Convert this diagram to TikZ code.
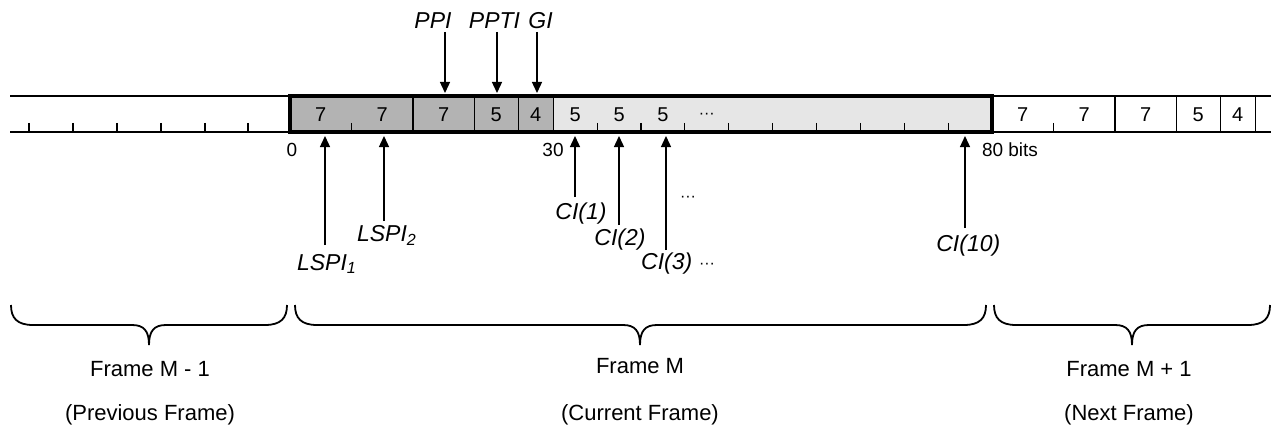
\documentclass[tikz,border=0pt]{standalone}
\usepackage{fontspec}
\setmainfont{Liberation Sans}
\usetikzlibrary{arrows.meta}
\definecolor{dkgray}{RGB}{179,179,179}
\definecolor{ltgray}{RGB}{230,230,230}
\tikzset{
  lbl/.style={inner sep=0pt, anchor=base, font=\fontsize{22}{26}\selectfont},
  ital/.style={inner sep=0pt, anchor=base, font=\fontsize{23}{27}\selectfont\itshape},
  dig/.style={inner sep=0pt, anchor=base, font=\fontsize{20}{24}\selectfont},
  small/.style={inner sep=0pt, anchor=base, font=\fontsize{19}{23}\selectfont},
  dots/.style={inner sep=0pt, anchor=base, font=\fontsize{16}{20}\selectfont},
  ptr/.style={line width=1.3pt, -{Triangle[length=11pt,width=10pt]}},
  tickmark/.style={line width=1.2pt},
  sepline/.style={line width=1.3pt},
  stripline/.style={line width=1.6pt},
  boldframe/.style={line width=4pt},
  brc/.style={line width=1.8pt},
}
\newcommand{\mybrace}[3]{%
  \draw[brc] (#1,305) .. controls (#1,318) and ({#1+6},325) .. ({#1+22},325)
    -- ({#2-17},325) .. controls ({#2-5},325) and (#2,331) .. (#2,345)
    .. controls (#2,331) and ({#2+5},325) .. ({#2+17},325)
    -- ({#3-22},325) .. controls ({#3-6},325) and (#3,318) .. (#3,305);}
\begin{document}
\begin{tikzpicture}[x=1pt,y=-1pt]
\useasboundingbox (0,0) rectangle (1271,425);
% fills of current frame
\fill[dkgray] (290,96) rectangle (553.25,132);
\fill[ltgray] (553.25,96) rectangle (992,132);
% previous frame strip
\draw[stripline] (10,96) -- (290,96) (10,132) -- (290,132);
\foreach \x in {29,73,117,161,205,248} \draw[tickmark] (\x,123) -- (\x,132);
% next frame strip
\draw[stripline] (992,96) -- (1271,96) (992,132) -- (1271,132);
\foreach \n in {14,21,26,30} \draw[sepline] ({992+\n*8.775},96) -- ({992+\n*8.775},132);
\draw[tickmark] ({992+7*8.775},123) -- ({992+7*8.775},132);
% current frame
\foreach \n in {14,21,26,30} \draw[sepline] ({290+\n*8.775},96) -- ({290+\n*8.775},132);
\foreach \n in {7,35,40,...,75} \draw[tickmark] ({290+\n*8.775},123) -- ({290+\n*8.775},132);
\draw[boldframe] (290,96) rectangle (992,132);
% cell values
\foreach \c/\v [count=\i] in {3.5/7,10.5/7,17.5/7,23.5/5,28/4,32.5/5,37.5/5,42.5/5}
  \node[dig] (c\i) at ({290+\c*8.775},122) {\v};
\node[dots] (cdots) at ({290+47.5*8.775},119) {···};
\foreach \c/\v [count=\i] in {3.5/7,10.5/7,17.5/7,23.5/5,28/4}
  \node[dig] (n\i) at ({992+\c*8.775},122) {\v};
% bit positions
\node[small] (b0) at (292,157) {0};
\node[small] (b30) at (553,157) {30};
\node[small] (b80) at (1010,157) {80 bits};
% top labels and arrows
\node[ital] (ppi) at (433,28.3) {PPI};
\node[ital] (ppti) at (494.5,28.3) {PPTI};
\node[ital] (gi) at (540.5,28.3) {GI};
\coordinate (ppiA) at (445,32);  \coordinate (ppiB) at (445,93);
\coordinate (pptiA) at (497,32); \coordinate (pptiB) at (497,93);
\coordinate (giA) at (537,32);   \coordinate (giB) at (537,93);
\draw[ptr] (ppiA) -- (ppiB);
\draw[ptr] (pptiA) -- (pptiB);
\draw[ptr] (giA) -- (giB);
% bottom labels and arrows
\node[ital] (lspi1) at (326.7,270) {LSPI\textsubscript{1}};
\node[ital] (lspi2) at (386.7,241.7) {LSPI\textsubscript{2}};
\node[ital] (ci1) at (581,219) {CI(1)};
\node[ital] (ci2) at (620,245) {CI(2)};
\node[ital] (ci3) at (666.7,269) {CI(3)};
\node[dots] (ci3dots) at (707,268) {···};
\node[dots] (midots) at (688,201) {···};
\node[ital] (ci10) at (968.3,251) {CI(10)};
\coordinate (l1A) at (325,245);  \coordinate (l1B) at (325,136);
\coordinate (l2A) at (384,221);  \coordinate (l2B) at (384,136);
\coordinate (k1A) at (575,197);  \coordinate (k1B) at (575,136);
\coordinate (k2A) at (619,225);  \coordinate (k2B) at (619,136);
\coordinate (k3A) at (666,250);  \coordinate (k3B) at (666,136);
\coordinate (k10A) at (965,228); \coordinate (k10B) at (965,136);
\draw[ptr] (l1A) -- (l1B);
\draw[ptr] (l2A) -- (l2B);
\draw[ptr] (k1A) -- (k1B);
\draw[ptr] (k2A) -- (k2B);
\draw[ptr] (k3A) -- (k3B);
\draw[ptr] (k10A) -- (k10B);
% braces
\mybrace{11}{149}{287}
\mybrace{295}{640}{986}
\mybrace{994}{1132}{1270}
% frame labels
\node[lbl] (fprev) at (150,376) {Frame M - 1};
\node[lbl] (fprev2) at (150,420) {(Previous Frame)};
\node[lbl] (fcur) at (640,373) {Frame M};
\node[lbl] (fcur2) at (640,420) {(Current Frame)};
\node[lbl] (fnext) at (1129,376) {Frame M + 1};
\node[lbl] (fnext2) at (1129,420) {(Next Frame)};
\end{tikzpicture}
\end{document}
